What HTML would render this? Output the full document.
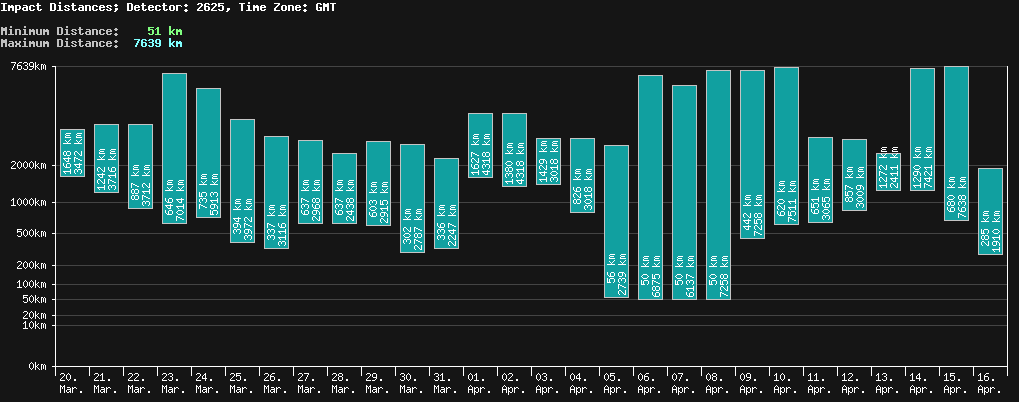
<!DOCTYPE html>
<html><head><meta charset="utf-8"><title>Impact Distances</title>
<style>
html,body{margin:0;padding:0;background:#151515;}
body{width:1019px;height:402px;overflow:hidden;position:relative;font-family:"Liberation Mono",monospace;}
svg{position:absolute;left:0;top:0;}
svg text{font-family:"Liberation Mono",monospace;font-size:10px;fill-opacity:0;stroke:none;}
svg text.t{font-size:11.667px;font-weight:bold;}
</style></head><body>
<svg width="1019" height="402" viewBox="0 0 1019 402">
<defs>
<path id="g0" d="M2 0h1v1h-1zM1 1h1v1h-1zM3 1h1v1h-1zM0 2h1v1h-1zM4 2h1v1h-1zM0 3h1v1h-1zM4 3h1v1h-1zM0 4h1v1h-1zM4 4h1v1h-1zM0 5h1v1h-1zM4 5h1v1h-1zM1 6h1v1h-1zM3 6h1v1h-1zM2 7h1v1h-1z"/>
<path id="g1" d="M2 0h1v1h-1zM1 1h2v1h-2zM0 2h1v1h-1zM2 2h1v1h-1zM2 3h1v1h-1zM2 4h1v1h-1zM2 5h1v1h-1zM2 6h1v1h-1zM0 7h5v1h-5z"/>
<path id="g2" d="M1 0h3v1h-3zM0 1h1v1h-1zM4 1h1v1h-1zM4 2h1v1h-1zM3 3h1v1h-1zM2 4h1v1h-1zM1 5h1v1h-1zM0 6h1v1h-1zM0 7h5v1h-5z"/>
<path id="g3" d="M1 0h3v1h-3zM0 1h1v1h-1zM4 1h1v1h-1zM4 2h1v1h-1zM2 3h2v1h-2zM4 4h1v1h-1zM4 5h1v1h-1zM0 6h1v1h-1zM4 6h1v1h-1zM1 7h3v1h-3z"/>
<path id="g4" d="M3 0h1v1h-1zM2 1h2v1h-2zM1 2h1v1h-1zM3 2h1v1h-1zM0 3h1v1h-1zM3 3h1v1h-1zM0 4h1v1h-1zM3 4h1v1h-1zM0 5h5v1h-5zM3 6h1v1h-1zM3 7h1v1h-1z"/>
<path id="g5" d="M0 0h5v1h-5zM0 1h1v1h-1zM0 2h4v1h-4zM0 3h1v1h-1zM4 3h1v1h-1zM4 4h1v1h-1zM4 5h1v1h-1zM0 6h1v1h-1zM4 6h1v1h-1zM1 7h3v1h-3z"/>
<path id="g6" d="M2 0h3v1h-3zM1 1h1v1h-1zM0 2h1v1h-1zM0 3h4v1h-4zM0 4h1v1h-1zM4 4h1v1h-1zM0 5h1v1h-1zM4 5h1v1h-1zM0 6h1v1h-1zM4 6h1v1h-1zM1 7h3v1h-3z"/>
<path id="g7" d="M0 0h5v1h-5zM4 1h1v1h-1zM3 2h1v1h-1zM3 3h1v1h-1zM2 4h1v1h-1zM2 5h1v1h-1zM1 6h1v1h-1zM1 7h1v1h-1z"/>
<path id="g8" d="M1 0h3v1h-3zM0 1h1v1h-1zM4 1h1v1h-1zM0 2h1v1h-1zM4 2h1v1h-1zM1 3h3v1h-3zM0 4h1v1h-1zM4 4h1v1h-1zM0 5h1v1h-1zM4 5h1v1h-1zM0 6h1v1h-1zM4 6h1v1h-1zM1 7h3v1h-3z"/>
<path id="g9" d="M1 0h3v1h-3zM0 1h1v1h-1zM4 1h1v1h-1zM0 2h1v1h-1zM4 2h1v1h-1zM0 3h1v1h-1zM4 3h1v1h-1zM1 4h4v1h-4zM4 5h1v1h-1zM3 6h1v1h-1zM0 7h3v1h-3z"/>
<path id="gk" d="M0 0h1v1h-1zM0 1h1v1h-1zM0 2h1v1h-1zM3 2h1v1h-1zM0 3h1v1h-1zM2 3h1v1h-1zM0 4h2v1h-2zM0 5h1v1h-1zM2 5h1v1h-1zM0 6h1v1h-1zM3 6h1v1h-1zM0 7h1v1h-1zM4 7h1v1h-1z"/>
<path id="gm" d="M0 2h2v1h-2zM3 2h1v1h-1zM0 3h1v1h-1zM2 3h1v1h-1zM4 3h1v1h-1zM0 4h1v1h-1zM2 4h1v1h-1zM4 4h1v1h-1zM0 5h1v1h-1zM2 5h1v1h-1zM4 5h1v1h-1zM0 6h1v1h-1zM2 6h1v1h-1zM4 6h1v1h-1zM0 7h1v1h-1zM4 7h1v1h-1z"/>
<path id="gM" d="M0 0h1v1h-1zM4 0h1v1h-1zM0 1h2v1h-2zM3 1h2v1h-2zM0 2h1v1h-1zM2 2h1v1h-1zM4 2h1v1h-1zM0 3h1v1h-1zM2 3h1v1h-1zM4 3h1v1h-1zM0 4h1v1h-1zM4 4h1v1h-1zM0 5h1v1h-1zM4 5h1v1h-1zM0 6h1v1h-1zM4 6h1v1h-1zM0 7h1v1h-1zM4 7h1v1h-1z"/>
<path id="ga" d="M1 2h3v1h-3zM4 3h1v1h-1zM1 4h4v1h-4zM0 5h1v1h-1zM4 5h1v1h-1zM0 6h1v1h-1zM3 6h2v1h-2zM1 7h2v1h-2zM4 7h1v1h-1z"/>
<path id="gr" d="M0 2h1v1h-1zM2 2h2v1h-2zM0 3h2v1h-2zM4 3h1v1h-1zM0 4h1v1h-1zM0 5h1v1h-1zM0 6h1v1h-1zM0 7h1v1h-1z"/>
<path id="gA" d="M2 0h1v1h-1zM1 1h1v1h-1zM3 1h1v1h-1zM0 2h1v1h-1zM4 2h1v1h-1zM0 3h1v1h-1zM4 3h1v1h-1zM0 4h5v1h-5zM0 5h1v1h-1zM4 5h1v1h-1zM0 6h1v1h-1zM4 6h1v1h-1zM0 7h1v1h-1zM4 7h1v1h-1z"/>
<path id="gp" d="M0 2h1v1h-1zM2 2h2v1h-2zM0 3h2v1h-2zM4 3h1v1h-1zM0 4h1v1h-1zM4 4h1v1h-1zM0 5h1v1h-1zM4 5h1v1h-1zM0 6h2v1h-2zM4 6h1v1h-1zM0 7h1v1h-1zM2 7h2v1h-2zM0 8h1v1h-1zM0 9h1v1h-1z"/>
<path id="gdot" d="M2 6h2v1h-2zM2 7h2v1h-2z"/>
<path id="b73" d="M0 1h6v1h-6zM2 2h2v1h-2zM2 3h2v1h-2zM2 4h2v1h-2zM2 5h2v1h-2zM2 6h2v1h-2zM2 7h2v1h-2zM0 8h6v1h-6z"/>
<path id="b109" d="M0 3h2v1h-2zM3 3h2v1h-2zM0 4h6v1h-6zM0 5h6v1h-6zM0 6h2v1h-2zM4 6h2v1h-2zM0 7h2v1h-2zM4 7h2v1h-2zM0 8h2v1h-2zM4 8h2v1h-2z"/>
<path id="b112" d="M0 3h5v1h-5zM0 4h2v1h-2zM4 4h2v1h-2zM0 5h2v1h-2zM4 5h2v1h-2zM0 6h2v1h-2zM4 6h2v1h-2zM0 7h5v1h-5zM0 8h2v1h-2zM0 9h2v1h-2zM0 10h2v1h-2z"/>
<path id="b97" d="M1 3h4v1h-4zM4 4h2v1h-2zM1 5h5v1h-5zM0 6h2v1h-2zM4 6h2v1h-2zM0 7h2v1h-2zM4 7h2v1h-2zM1 8h5v1h-5z"/>
<path id="b99" d="M1 3h4v1h-4zM0 4h2v1h-2zM4 4h2v1h-2zM0 5h2v1h-2zM0 6h2v1h-2zM0 7h2v1h-2zM4 7h2v1h-2zM1 8h4v1h-4z"/>
<path id="b116" d="M1 1h2v1h-2zM1 2h2v1h-2zM0 3h5v1h-5zM1 4h2v1h-2zM1 5h2v1h-2zM1 6h2v1h-2zM1 7h2v1h-2zM4 7h2v1h-2zM2 8h3v1h-3z"/>
<path id="b68" d="M0 1h5v1h-5zM0 2h2v1h-2zM4 2h2v1h-2zM0 3h2v1h-2zM4 3h2v1h-2zM0 4h2v1h-2zM4 4h2v1h-2zM0 5h2v1h-2zM4 5h2v1h-2zM0 6h2v1h-2zM4 6h2v1h-2zM0 7h2v1h-2zM4 7h2v1h-2zM0 8h5v1h-5z"/>
<path id="b105" d="M2 0h2v1h-2zM2 1h2v1h-2zM1 3h3v1h-3zM2 4h2v1h-2zM2 5h2v1h-2zM2 6h2v1h-2zM2 7h2v1h-2zM0 8h6v1h-6z"/>
<path id="b115" d="M1 3h4v1h-4zM0 4h2v1h-2zM4 4h2v1h-2zM1 5h2v1h-2zM3 6h2v1h-2zM0 7h2v1h-2zM4 7h2v1h-2zM1 8h4v1h-4z"/>
<path id="b110" d="M0 3h5v1h-5zM0 4h2v1h-2zM4 4h2v1h-2zM0 5h2v1h-2zM4 5h2v1h-2zM0 6h2v1h-2zM4 6h2v1h-2zM0 7h2v1h-2zM4 7h2v1h-2zM0 8h2v1h-2zM4 8h2v1h-2z"/>
<path id="b101" d="M1 3h4v1h-4zM0 4h2v1h-2zM4 4h2v1h-2zM0 5h6v1h-6zM0 6h2v1h-2zM0 7h2v1h-2zM4 7h2v1h-2zM1 8h4v1h-4z"/>
<path id="b59" d="M2 2h2v1h-2zM1 3h4v1h-4zM2 4h2v1h-2zM2 6h3v1h-3zM2 7h3v1h-3zM2 8h2v1h-2zM1 9h2v1h-2z"/>
<path id="b111" d="M1 3h4v1h-4zM0 4h2v1h-2zM4 4h2v1h-2zM0 5h2v1h-2zM4 5h2v1h-2zM0 6h2v1h-2zM4 6h2v1h-2zM0 7h2v1h-2zM4 7h2v1h-2zM1 8h4v1h-4z"/>
<path id="b114" d="M0 3h5v1h-5zM0 4h2v1h-2zM5 4h1v1h-1zM0 5h2v1h-2zM0 6h2v1h-2zM0 7h2v1h-2zM0 8h2v1h-2z"/>
<path id="b58" d="M2 2h2v1h-2zM1 3h4v1h-4zM2 4h2v1h-2zM2 7h2v1h-2zM1 8h4v1h-4zM2 9h2v1h-2z"/>
<path id="b44" d="M2 6h3v1h-3zM2 7h3v1h-3zM2 8h2v1h-2zM1 9h2v1h-2z"/>
<path id="b84" d="M0 1h6v1h-6zM2 2h2v1h-2zM2 3h2v1h-2zM2 4h2v1h-2zM2 5h2v1h-2zM2 6h2v1h-2zM2 7h2v1h-2zM2 8h2v1h-2z"/>
<path id="b90" d="M0 1h6v1h-6zM4 2h2v1h-2zM3 3h2v1h-2zM2 4h2v1h-2zM1 5h2v1h-2zM0 6h2v1h-2zM0 7h2v1h-2zM0 8h6v1h-6z"/>
<path id="b71" d="M1 1h4v1h-4zM0 2h2v1h-2zM4 2h2v1h-2zM0 3h2v1h-2zM0 4h2v1h-2zM0 5h2v1h-2zM3 5h3v1h-3zM0 6h2v1h-2zM4 6h2v1h-2zM0 7h2v1h-2zM4 7h2v1h-2zM1 8h5v1h-5z"/>
<path id="b77" d="M0 1h2v1h-2zM4 1h2v1h-2zM0 2h6v1h-6zM0 3h6v1h-6zM0 4h6v1h-6zM0 5h2v1h-2zM4 5h2v1h-2zM0 6h2v1h-2zM4 6h2v1h-2zM0 7h2v1h-2zM4 7h2v1h-2zM0 8h2v1h-2zM4 8h2v1h-2z"/>
<path id="b120" d="M0 3h2v1h-2zM4 3h2v1h-2zM0 4h2v1h-2zM4 4h2v1h-2zM1 5h4v1h-4zM1 6h4v1h-4zM0 7h2v1h-2zM4 7h2v1h-2zM0 8h2v1h-2zM4 8h2v1h-2z"/>
<path id="b117" d="M0 3h2v1h-2zM4 3h2v1h-2zM0 4h2v1h-2zM4 4h2v1h-2zM0 5h2v1h-2zM4 5h2v1h-2zM0 6h2v1h-2zM4 6h2v1h-2zM0 7h2v1h-2zM4 7h2v1h-2zM1 8h5v1h-5z"/>
<path id="b107" d="M0 0h2v1h-2zM0 1h2v1h-2zM0 2h2v1h-2zM0 3h2v1h-2zM4 3h2v1h-2zM0 4h2v1h-2zM3 4h2v1h-2zM0 5h4v1h-4zM0 6h4v1h-4zM0 7h2v1h-2zM3 7h2v1h-2zM0 8h2v1h-2zM4 8h2v1h-2z"/>
<path id="b50" d="M1 1h4v1h-4zM0 2h2v1h-2zM4 2h2v1h-2zM4 3h2v1h-2zM3 4h2v1h-2zM2 5h2v1h-2zM1 6h2v1h-2zM0 7h2v1h-2zM0 8h6v1h-6z"/>
<path id="b54" d="M1 1h4v1h-4zM0 2h2v1h-2zM4 2h2v1h-2zM0 3h2v1h-2zM0 4h5v1h-5zM0 5h2v1h-2zM4 5h2v1h-2zM0 6h2v1h-2zM4 6h2v1h-2zM0 7h2v1h-2zM4 7h2v1h-2zM1 8h4v1h-4z"/>
<path id="b53" d="M0 1h6v1h-6zM0 2h2v1h-2zM0 3h5v1h-5zM0 4h2v1h-2zM4 4h2v1h-2zM4 5h2v1h-2zM4 6h2v1h-2zM0 7h2v1h-2zM4 7h2v1h-2zM1 8h4v1h-4z"/>
<path id="b49" d="M2 1h2v1h-2zM1 2h3v1h-3zM0 3h1v1h-1zM2 3h2v1h-2zM2 4h2v1h-2zM2 5h2v1h-2zM2 6h2v1h-2zM2 7h2v1h-2zM0 8h6v1h-6z"/>
<path id="b55" d="M0 1h6v1h-6zM4 2h2v1h-2zM3 3h2v1h-2zM3 4h2v1h-2zM2 5h2v1h-2zM2 6h2v1h-2zM1 7h2v1h-2zM1 8h2v1h-2z"/>
<path id="b51" d="M1 1h4v1h-4zM0 2h2v1h-2zM4 2h2v1h-2zM4 3h2v1h-2zM1 4h4v1h-4zM4 5h2v1h-2zM4 6h2v1h-2zM0 7h2v1h-2zM4 7h2v1h-2zM1 8h4v1h-4z"/>
<path id="b57" d="M1 1h4v1h-4zM0 2h2v1h-2zM4 2h2v1h-2zM0 3h2v1h-2zM4 3h2v1h-2zM0 4h2v1h-2zM4 4h2v1h-2zM1 5h5v1h-5zM4 6h2v1h-2zM0 7h2v1h-2zM4 7h2v1h-2zM1 8h4v1h-4z"/>
</defs>
<g shape-rendering="crispEdges">
<g transform="translate(1,2)" fill="#fff" aria-label="Impact Distances; Detector: 2625, Time Zone: GMT"><use href="#b73" x="0"/><use href="#b109" x="7"/><use href="#b112" x="14"/><use href="#b97" x="21"/><use href="#b99" x="28"/><use href="#b116" x="35"/><use href="#b68" x="49"/><use href="#b105" x="56"/><use href="#b115" x="63"/><use href="#b116" x="70"/><use href="#b97" x="77"/><use href="#b110" x="84"/><use href="#b99" x="91"/><use href="#b101" x="98"/><use href="#b115" x="105"/><use href="#b59" x="112"/><use href="#b68" x="126"/><use href="#b101" x="133"/><use href="#b116" x="140"/><use href="#b101" x="147"/><use href="#b99" x="154"/><use href="#b116" x="161"/><use href="#b111" x="168"/><use href="#b114" x="175"/><use href="#b58" x="182"/><use href="#b50" x="196"/><use href="#b54" x="203"/><use href="#b50" x="210"/><use href="#b53" x="217"/><use href="#b44" x="224"/><use href="#b84" x="238"/><use href="#b105" x="245"/><use href="#b109" x="252"/><use href="#b101" x="259"/><use href="#b90" x="273"/><use href="#b111" x="280"/><use href="#b110" x="287"/><use href="#b101" x="294"/><use href="#b58" x="301"/><use href="#b71" x="315"/><use href="#b77" x="322"/><use href="#b84" x="329"/></g>
<g transform="translate(1,26)" fill="#c0c0c0" aria-label="Minimum Distance:"><use href="#b77" x="0"/><use href="#b105" x="7"/><use href="#b110" x="14"/><use href="#b105" x="21"/><use href="#b109" x="28"/><use href="#b117" x="35"/><use href="#b109" x="42"/><use href="#b68" x="56"/><use href="#b105" x="63"/><use href="#b115" x="70"/><use href="#b116" x="77"/><use href="#b97" x="84"/><use href="#b110" x="91"/><use href="#b99" x="98"/><use href="#b101" x="105"/><use href="#b58" x="112"/></g>
<g transform="translate(1,38)" fill="#c0c0c0" aria-label="Maximum Distance:"><use href="#b77" x="0"/><use href="#b97" x="7"/><use href="#b120" x="14"/><use href="#b105" x="21"/><use href="#b109" x="28"/><use href="#b117" x="35"/><use href="#b109" x="42"/><use href="#b68" x="56"/><use href="#b105" x="63"/><use href="#b115" x="70"/><use href="#b116" x="77"/><use href="#b97" x="84"/><use href="#b110" x="91"/><use href="#b99" x="98"/><use href="#b101" x="105"/><use href="#b58" x="112"/></g>
<g transform="translate(134,26)" fill="#80ff80" aria-label="51 km"><use href="#b53" x="14"/><use href="#b49" x="21"/><use href="#b107" x="35"/><use href="#b109" x="42"/></g>
<g transform="translate(134,38)" fill="#80ffff" aria-label="7639 km"><use href="#b55" x="0"/><use href="#b54" x="7"/><use href="#b51" x="14"/><use href="#b57" x="21"/><use href="#b107" x="35"/><use href="#b109" x="42"/></g>
</g>
<g shape-rendering="crispEdges">
<rect x="56" y="66" width="952" height="1" fill="#444"/>
<rect x="56" y="165" width="952" height="1" fill="#444"/>
<rect x="56" y="202" width="952" height="1" fill="#444"/>
<rect x="56" y="233" width="952" height="1" fill="#444"/>
<rect x="56" y="265" width="952" height="1" fill="#444"/>
<rect x="56" y="284" width="952" height="1" fill="#444"/>
<rect x="56" y="299" width="952" height="1" fill="#444"/>
<rect x="56" y="315" width="952" height="1" fill="#444"/>
<rect x="56" y="325" width="952" height="1" fill="#444"/>
<rect x="60" y="129" width="25" height="48" fill="#c4c4c4"/>
<rect x="61" y="130" width="23" height="46" fill="#11a0a0"/>
<rect x="94" y="124" width="25" height="69" fill="#c4c4c4"/>
<rect x="95" y="125" width="23" height="67" fill="#11a0a0"/>
<rect x="128" y="124" width="25" height="85" fill="#c4c4c4"/>
<rect x="129" y="125" width="23" height="83" fill="#11a0a0"/>
<rect x="162" y="73" width="25" height="151" fill="#c4c4c4"/>
<rect x="163" y="74" width="23" height="149" fill="#11a0a0"/>
<rect x="196" y="88" width="25" height="130" fill="#c4c4c4"/>
<rect x="197" y="89" width="23" height="128" fill="#11a0a0"/>
<rect x="230" y="119" width="25" height="124" fill="#c4c4c4"/>
<rect x="231" y="120" width="23" height="122" fill="#11a0a0"/>
<rect x="264" y="136" width="25" height="113" fill="#c4c4c4"/>
<rect x="265" y="137" width="23" height="111" fill="#11a0a0"/>
<rect x="298" y="140" width="25" height="84" fill="#c4c4c4"/>
<rect x="299" y="141" width="23" height="82" fill="#11a0a0"/>
<rect x="332" y="153" width="25" height="71" fill="#c4c4c4"/>
<rect x="333" y="154" width="23" height="69" fill="#11a0a0"/>
<rect x="366" y="141" width="25" height="85" fill="#c4c4c4"/>
<rect x="367" y="142" width="23" height="83" fill="#11a0a0"/>
<rect x="400" y="144" width="25" height="109" fill="#c4c4c4"/>
<rect x="401" y="145" width="23" height="107" fill="#11a0a0"/>
<rect x="434" y="158" width="25" height="91" fill="#c4c4c4"/>
<rect x="435" y="159" width="23" height="89" fill="#11a0a0"/>
<rect x="468" y="113" width="25" height="65" fill="#c4c4c4"/>
<rect x="469" y="114" width="23" height="63" fill="#11a0a0"/>
<rect x="502" y="113" width="25" height="74" fill="#c4c4c4"/>
<rect x="503" y="114" width="23" height="72" fill="#11a0a0"/>
<rect x="536" y="138" width="25" height="47" fill="#c4c4c4"/>
<rect x="537" y="139" width="23" height="45" fill="#11a0a0"/>
<rect x="570" y="138" width="25" height="75" fill="#c4c4c4"/>
<rect x="571" y="139" width="23" height="73" fill="#11a0a0"/>
<rect x="604" y="145" width="25" height="153" fill="#c4c4c4"/>
<rect x="605" y="146" width="23" height="151" fill="#11a0a0"/>
<rect x="638" y="75" width="25" height="225" fill="#c4c4c4"/>
<rect x="639" y="76" width="23" height="223" fill="#11a0a0"/>
<rect x="672" y="85" width="25" height="215" fill="#c4c4c4"/>
<rect x="673" y="86" width="23" height="213" fill="#11a0a0"/>
<rect x="706" y="70" width="25" height="230" fill="#c4c4c4"/>
<rect x="707" y="71" width="23" height="228" fill="#11a0a0"/>
<rect x="740" y="70" width="25" height="169" fill="#c4c4c4"/>
<rect x="741" y="71" width="23" height="167" fill="#11a0a0"/>
<rect x="774" y="67" width="25" height="158" fill="#c4c4c4"/>
<rect x="775" y="68" width="23" height="156" fill="#11a0a0"/>
<rect x="808" y="137" width="25" height="86" fill="#c4c4c4"/>
<rect x="809" y="138" width="23" height="84" fill="#11a0a0"/>
<rect x="842" y="139" width="25" height="72" fill="#c4c4c4"/>
<rect x="843" y="140" width="23" height="70" fill="#11a0a0"/>
<rect x="876" y="153" width="25" height="38" fill="#c4c4c4"/>
<rect x="877" y="154" width="23" height="36" fill="#11a0a0"/>
<rect x="910" y="68" width="25" height="123" fill="#c4c4c4"/>
<rect x="911" y="69" width="23" height="121" fill="#11a0a0"/>
<rect x="944" y="66" width="25" height="155" fill="#c4c4c4"/>
<rect x="945" y="67" width="23" height="153" fill="#11a0a0"/>
<rect x="978" y="168" width="25" height="87" fill="#c4c4c4"/>
<rect x="979" y="169" width="23" height="85" fill="#11a0a0"/>
<rect x="55" y="66" width="1" height="310" fill="#fff"/>
<rect x="52" y="366" width="956" height="1" fill="#fff"/>
<rect x="1007" y="66" width="1" height="310" fill="#fff"/>
<rect x="89" y="366" width="1" height="10" fill="#fff"/>
<rect x="123" y="366" width="1" height="10" fill="#fff"/>
<rect x="157" y="366" width="1" height="10" fill="#fff"/>
<rect x="191" y="366" width="1" height="10" fill="#fff"/>
<rect x="225" y="366" width="1" height="10" fill="#fff"/>
<rect x="259" y="366" width="1" height="10" fill="#fff"/>
<rect x="293" y="366" width="1" height="10" fill="#fff"/>
<rect x="327" y="366" width="1" height="10" fill="#fff"/>
<rect x="361" y="366" width="1" height="10" fill="#fff"/>
<rect x="395" y="366" width="1" height="10" fill="#fff"/>
<rect x="429" y="366" width="1" height="10" fill="#fff"/>
<rect x="463" y="366" width="1" height="10" fill="#fff"/>
<rect x="497" y="366" width="1" height="10" fill="#fff"/>
<rect x="531" y="366" width="1" height="10" fill="#fff"/>
<rect x="565" y="366" width="1" height="10" fill="#fff"/>
<rect x="599" y="366" width="1" height="10" fill="#fff"/>
<rect x="633" y="366" width="1" height="10" fill="#fff"/>
<rect x="667" y="366" width="1" height="10" fill="#fff"/>
<rect x="701" y="366" width="1" height="10" fill="#fff"/>
<rect x="735" y="366" width="1" height="10" fill="#fff"/>
<rect x="769" y="366" width="1" height="10" fill="#fff"/>
<rect x="803" y="366" width="1" height="10" fill="#fff"/>
<rect x="837" y="366" width="1" height="10" fill="#fff"/>
<rect x="871" y="366" width="1" height="10" fill="#fff"/>
<rect x="905" y="366" width="1" height="10" fill="#fff"/>
<rect x="939" y="366" width="1" height="10" fill="#fff"/>
<rect x="973" y="366" width="1" height="10" fill="#fff"/>
<rect x="52" y="66" width="3" height="1" fill="#fff"/>
<rect x="52" y="165" width="3" height="1" fill="#fff"/>
<rect x="52" y="202" width="3" height="1" fill="#fff"/>
<rect x="52" y="233" width="3" height="1" fill="#fff"/>
<rect x="52" y="265" width="3" height="1" fill="#fff"/>
<rect x="52" y="284" width="3" height="1" fill="#fff"/>
<rect x="52" y="299" width="3" height="1" fill="#fff"/>
<rect x="52" y="315" width="3" height="1" fill="#fff"/>
<rect x="52" y="325" width="3" height="1" fill="#fff"/>
<rect x="52" y="366" width="3" height="1" fill="#fff"/>
<g fill="#fff">
<g transform="translate(11,62)" aria-label="7639km"><use href="#g7" x="0"/><use href="#g6" x="6"/><use href="#g3" x="12"/><use href="#g9" x="18"/><use href="#gk" x="24"/><use href="#gm" x="30"/></g>
<g transform="translate(11,161)" aria-label="2000km"><use href="#g2" x="0"/><use href="#g0" x="6"/><use href="#g0" x="12"/><use href="#g0" x="18"/><use href="#gk" x="24"/><use href="#gm" x="30"/></g>
<g transform="translate(11,198)" aria-label="1000km"><use href="#g1" x="0"/><use href="#g0" x="6"/><use href="#g0" x="12"/><use href="#g0" x="18"/><use href="#gk" x="24"/><use href="#gm" x="30"/></g>
<g transform="translate(17,229)" aria-label="500km"><use href="#g5" x="0"/><use href="#g0" x="6"/><use href="#g0" x="12"/><use href="#gk" x="18"/><use href="#gm" x="24"/></g>
<g transform="translate(17,261)" aria-label="200km"><use href="#g2" x="0"/><use href="#g0" x="6"/><use href="#g0" x="12"/><use href="#gk" x="18"/><use href="#gm" x="24"/></g>
<g transform="translate(17,280)" aria-label="100km"><use href="#g1" x="0"/><use href="#g0" x="6"/><use href="#g0" x="12"/><use href="#gk" x="18"/><use href="#gm" x="24"/></g>
<g transform="translate(23,295)" aria-label="50km"><use href="#g5" x="0"/><use href="#g0" x="6"/><use href="#gk" x="12"/><use href="#gm" x="18"/></g>
<g transform="translate(23,311)" aria-label="20km"><use href="#g2" x="0"/><use href="#g0" x="6"/><use href="#gk" x="12"/><use href="#gm" x="18"/></g>
<g transform="translate(23,321)" aria-label="10km"><use href="#g1" x="0"/><use href="#g0" x="6"/><use href="#gk" x="12"/><use href="#gm" x="18"/></g>
<g transform="translate(29,362)" aria-label="0km"><use href="#g0" x="0"/><use href="#gk" x="6"/><use href="#gm" x="12"/></g>
<g transform="translate(60,373)" aria-label="20."><use href="#g2" x="0"/><use href="#g0" x="6"/><use href="#gdot" x="12"/></g>
<g transform="translate(60,385)" aria-label="Mar."><use href="#gM" x="0"/><use href="#ga" x="6"/><use href="#gr" x="12"/><use href="#gdot" x="18"/></g>
<g transform="translate(94,373)" aria-label="21."><use href="#g2" x="0"/><use href="#g1" x="6"/><use href="#gdot" x="12"/></g>
<g transform="translate(94,385)" aria-label="Mar."><use href="#gM" x="0"/><use href="#ga" x="6"/><use href="#gr" x="12"/><use href="#gdot" x="18"/></g>
<g transform="translate(128,373)" aria-label="22."><use href="#g2" x="0"/><use href="#g2" x="6"/><use href="#gdot" x="12"/></g>
<g transform="translate(128,385)" aria-label="Mar."><use href="#gM" x="0"/><use href="#ga" x="6"/><use href="#gr" x="12"/><use href="#gdot" x="18"/></g>
<g transform="translate(162,373)" aria-label="23."><use href="#g2" x="0"/><use href="#g3" x="6"/><use href="#gdot" x="12"/></g>
<g transform="translate(162,385)" aria-label="Mar."><use href="#gM" x="0"/><use href="#ga" x="6"/><use href="#gr" x="12"/><use href="#gdot" x="18"/></g>
<g transform="translate(196,373)" aria-label="24."><use href="#g2" x="0"/><use href="#g4" x="6"/><use href="#gdot" x="12"/></g>
<g transform="translate(196,385)" aria-label="Mar."><use href="#gM" x="0"/><use href="#ga" x="6"/><use href="#gr" x="12"/><use href="#gdot" x="18"/></g>
<g transform="translate(230,373)" aria-label="25."><use href="#g2" x="0"/><use href="#g5" x="6"/><use href="#gdot" x="12"/></g>
<g transform="translate(230,385)" aria-label="Mar."><use href="#gM" x="0"/><use href="#ga" x="6"/><use href="#gr" x="12"/><use href="#gdot" x="18"/></g>
<g transform="translate(264,373)" aria-label="26."><use href="#g2" x="0"/><use href="#g6" x="6"/><use href="#gdot" x="12"/></g>
<g transform="translate(264,385)" aria-label="Mar."><use href="#gM" x="0"/><use href="#ga" x="6"/><use href="#gr" x="12"/><use href="#gdot" x="18"/></g>
<g transform="translate(298,373)" aria-label="27."><use href="#g2" x="0"/><use href="#g7" x="6"/><use href="#gdot" x="12"/></g>
<g transform="translate(298,385)" aria-label="Mar."><use href="#gM" x="0"/><use href="#ga" x="6"/><use href="#gr" x="12"/><use href="#gdot" x="18"/></g>
<g transform="translate(332,373)" aria-label="28."><use href="#g2" x="0"/><use href="#g8" x="6"/><use href="#gdot" x="12"/></g>
<g transform="translate(332,385)" aria-label="Mar."><use href="#gM" x="0"/><use href="#ga" x="6"/><use href="#gr" x="12"/><use href="#gdot" x="18"/></g>
<g transform="translate(366,373)" aria-label="29."><use href="#g2" x="0"/><use href="#g9" x="6"/><use href="#gdot" x="12"/></g>
<g transform="translate(366,385)" aria-label="Mar."><use href="#gM" x="0"/><use href="#ga" x="6"/><use href="#gr" x="12"/><use href="#gdot" x="18"/></g>
<g transform="translate(400,373)" aria-label="30."><use href="#g3" x="0"/><use href="#g0" x="6"/><use href="#gdot" x="12"/></g>
<g transform="translate(400,385)" aria-label="Mar."><use href="#gM" x="0"/><use href="#ga" x="6"/><use href="#gr" x="12"/><use href="#gdot" x="18"/></g>
<g transform="translate(434,373)" aria-label="31."><use href="#g3" x="0"/><use href="#g1" x="6"/><use href="#gdot" x="12"/></g>
<g transform="translate(434,385)" aria-label="Mar."><use href="#gM" x="0"/><use href="#ga" x="6"/><use href="#gr" x="12"/><use href="#gdot" x="18"/></g>
<g transform="translate(468,373)" aria-label="01."><use href="#g0" x="0"/><use href="#g1" x="6"/><use href="#gdot" x="12"/></g>
<g transform="translate(468,385)" aria-label="Apr."><use href="#gA" x="0"/><use href="#gp" x="6"/><use href="#gr" x="12"/><use href="#gdot" x="18"/></g>
<g transform="translate(502,373)" aria-label="02."><use href="#g0" x="0"/><use href="#g2" x="6"/><use href="#gdot" x="12"/></g>
<g transform="translate(502,385)" aria-label="Apr."><use href="#gA" x="0"/><use href="#gp" x="6"/><use href="#gr" x="12"/><use href="#gdot" x="18"/></g>
<g transform="translate(536,373)" aria-label="03."><use href="#g0" x="0"/><use href="#g3" x="6"/><use href="#gdot" x="12"/></g>
<g transform="translate(536,385)" aria-label="Apr."><use href="#gA" x="0"/><use href="#gp" x="6"/><use href="#gr" x="12"/><use href="#gdot" x="18"/></g>
<g transform="translate(570,373)" aria-label="04."><use href="#g0" x="0"/><use href="#g4" x="6"/><use href="#gdot" x="12"/></g>
<g transform="translate(570,385)" aria-label="Apr."><use href="#gA" x="0"/><use href="#gp" x="6"/><use href="#gr" x="12"/><use href="#gdot" x="18"/></g>
<g transform="translate(604,373)" aria-label="05."><use href="#g0" x="0"/><use href="#g5" x="6"/><use href="#gdot" x="12"/></g>
<g transform="translate(604,385)" aria-label="Apr."><use href="#gA" x="0"/><use href="#gp" x="6"/><use href="#gr" x="12"/><use href="#gdot" x="18"/></g>
<g transform="translate(638,373)" aria-label="06."><use href="#g0" x="0"/><use href="#g6" x="6"/><use href="#gdot" x="12"/></g>
<g transform="translate(638,385)" aria-label="Apr."><use href="#gA" x="0"/><use href="#gp" x="6"/><use href="#gr" x="12"/><use href="#gdot" x="18"/></g>
<g transform="translate(672,373)" aria-label="07."><use href="#g0" x="0"/><use href="#g7" x="6"/><use href="#gdot" x="12"/></g>
<g transform="translate(672,385)" aria-label="Apr."><use href="#gA" x="0"/><use href="#gp" x="6"/><use href="#gr" x="12"/><use href="#gdot" x="18"/></g>
<g transform="translate(706,373)" aria-label="08."><use href="#g0" x="0"/><use href="#g8" x="6"/><use href="#gdot" x="12"/></g>
<g transform="translate(706,385)" aria-label="Apr."><use href="#gA" x="0"/><use href="#gp" x="6"/><use href="#gr" x="12"/><use href="#gdot" x="18"/></g>
<g transform="translate(740,373)" aria-label="09."><use href="#g0" x="0"/><use href="#g9" x="6"/><use href="#gdot" x="12"/></g>
<g transform="translate(740,385)" aria-label="Apr."><use href="#gA" x="0"/><use href="#gp" x="6"/><use href="#gr" x="12"/><use href="#gdot" x="18"/></g>
<g transform="translate(774,373)" aria-label="10."><use href="#g1" x="0"/><use href="#g0" x="6"/><use href="#gdot" x="12"/></g>
<g transform="translate(774,385)" aria-label="Apr."><use href="#gA" x="0"/><use href="#gp" x="6"/><use href="#gr" x="12"/><use href="#gdot" x="18"/></g>
<g transform="translate(808,373)" aria-label="11."><use href="#g1" x="0"/><use href="#g1" x="6"/><use href="#gdot" x="12"/></g>
<g transform="translate(808,385)" aria-label="Apr."><use href="#gA" x="0"/><use href="#gp" x="6"/><use href="#gr" x="12"/><use href="#gdot" x="18"/></g>
<g transform="translate(842,373)" aria-label="12."><use href="#g1" x="0"/><use href="#g2" x="6"/><use href="#gdot" x="12"/></g>
<g transform="translate(842,385)" aria-label="Apr."><use href="#gA" x="0"/><use href="#gp" x="6"/><use href="#gr" x="12"/><use href="#gdot" x="18"/></g>
<g transform="translate(876,373)" aria-label="13."><use href="#g1" x="0"/><use href="#g3" x="6"/><use href="#gdot" x="12"/></g>
<g transform="translate(876,385)" aria-label="Apr."><use href="#gA" x="0"/><use href="#gp" x="6"/><use href="#gr" x="12"/><use href="#gdot" x="18"/></g>
<g transform="translate(910,373)" aria-label="14."><use href="#g1" x="0"/><use href="#g4" x="6"/><use href="#gdot" x="12"/></g>
<g transform="translate(910,385)" aria-label="Apr."><use href="#gA" x="0"/><use href="#gp" x="6"/><use href="#gr" x="12"/><use href="#gdot" x="18"/></g>
<g transform="translate(944,373)" aria-label="15."><use href="#g1" x="0"/><use href="#g5" x="6"/><use href="#gdot" x="12"/></g>
<g transform="translate(944,385)" aria-label="Apr."><use href="#gA" x="0"/><use href="#gp" x="6"/><use href="#gr" x="12"/><use href="#gdot" x="18"/></g>
<g transform="translate(978,373)" aria-label="16."><use href="#g1" x="0"/><use href="#g6" x="6"/><use href="#gdot" x="12"/></g>
<g transform="translate(978,385)" aria-label="Apr."><use href="#gA" x="0"/><use href="#gp" x="6"/><use href="#gr" x="12"/><use href="#gdot" x="18"/></g>
<g transform="translate(63,174) rotate(-90)" aria-label="1648 km"><use href="#g1" x="0"/><use href="#g6" x="6"/><use href="#g4" x="12"/><use href="#g8" x="18"/><use href="#gk" x="30"/><use href="#gm" x="36"/></g>
<g transform="translate(74,174) rotate(-90)" aria-label="3472 km"><use href="#g3" x="0"/><use href="#g4" x="6"/><use href="#g7" x="12"/><use href="#g2" x="18"/><use href="#gk" x="30"/><use href="#gm" x="36"/></g>
<g transform="translate(97,190) rotate(-90)" aria-label="1242 km"><use href="#g1" x="0"/><use href="#g2" x="6"/><use href="#g4" x="12"/><use href="#g2" x="18"/><use href="#gk" x="30"/><use href="#gm" x="36"/></g>
<g transform="translate(108,190) rotate(-90)" aria-label="3716 km"><use href="#g3" x="0"/><use href="#g7" x="6"/><use href="#g1" x="12"/><use href="#g6" x="18"/><use href="#gk" x="30"/><use href="#gm" x="36"/></g>
<g transform="translate(131,206) rotate(-90)" aria-label="887 km"><use href="#g8" x="6"/><use href="#g8" x="12"/><use href="#g7" x="18"/><use href="#gk" x="30"/><use href="#gm" x="36"/></g>
<g transform="translate(142,206) rotate(-90)" aria-label="3712 km"><use href="#g3" x="0"/><use href="#g7" x="6"/><use href="#g1" x="12"/><use href="#g2" x="18"/><use href="#gk" x="30"/><use href="#gm" x="36"/></g>
<g transform="translate(165,221) rotate(-90)" aria-label="646 km"><use href="#g6" x="6"/><use href="#g4" x="12"/><use href="#g6" x="18"/><use href="#gk" x="30"/><use href="#gm" x="36"/></g>
<g transform="translate(176,221) rotate(-90)" aria-label="7014 km"><use href="#g7" x="0"/><use href="#g0" x="6"/><use href="#g1" x="12"/><use href="#g4" x="18"/><use href="#gk" x="30"/><use href="#gm" x="36"/></g>
<g transform="translate(199,215) rotate(-90)" aria-label="735 km"><use href="#g7" x="6"/><use href="#g3" x="12"/><use href="#g5" x="18"/><use href="#gk" x="30"/><use href="#gm" x="36"/></g>
<g transform="translate(210,215) rotate(-90)" aria-label="5913 km"><use href="#g5" x="0"/><use href="#g9" x="6"/><use href="#g1" x="12"/><use href="#g3" x="18"/><use href="#gk" x="30"/><use href="#gm" x="36"/></g>
<g transform="translate(233,240) rotate(-90)" aria-label="394 km"><use href="#g3" x="6"/><use href="#g9" x="12"/><use href="#g4" x="18"/><use href="#gk" x="30"/><use href="#gm" x="36"/></g>
<g transform="translate(244,240) rotate(-90)" aria-label="3972 km"><use href="#g3" x="0"/><use href="#g9" x="6"/><use href="#g7" x="12"/><use href="#g2" x="18"/><use href="#gk" x="30"/><use href="#gm" x="36"/></g>
<g transform="translate(267,246) rotate(-90)" aria-label="337 km"><use href="#g3" x="6"/><use href="#g3" x="12"/><use href="#g7" x="18"/><use href="#gk" x="30"/><use href="#gm" x="36"/></g>
<g transform="translate(278,246) rotate(-90)" aria-label="3116 km"><use href="#g3" x="0"/><use href="#g1" x="6"/><use href="#g1" x="12"/><use href="#g6" x="18"/><use href="#gk" x="30"/><use href="#gm" x="36"/></g>
<g transform="translate(301,221) rotate(-90)" aria-label="637 km"><use href="#g6" x="6"/><use href="#g3" x="12"/><use href="#g7" x="18"/><use href="#gk" x="30"/><use href="#gm" x="36"/></g>
<g transform="translate(312,221) rotate(-90)" aria-label="2968 km"><use href="#g2" x="0"/><use href="#g9" x="6"/><use href="#g6" x="12"/><use href="#g8" x="18"/><use href="#gk" x="30"/><use href="#gm" x="36"/></g>
<g transform="translate(335,221) rotate(-90)" aria-label="637 km"><use href="#g6" x="6"/><use href="#g3" x="12"/><use href="#g7" x="18"/><use href="#gk" x="30"/><use href="#gm" x="36"/></g>
<g transform="translate(346,221) rotate(-90)" aria-label="2438 km"><use href="#g2" x="0"/><use href="#g4" x="6"/><use href="#g3" x="12"/><use href="#g8" x="18"/><use href="#gk" x="30"/><use href="#gm" x="36"/></g>
<g transform="translate(369,223) rotate(-90)" aria-label="603 km"><use href="#g6" x="6"/><use href="#g0" x="12"/><use href="#g3" x="18"/><use href="#gk" x="30"/><use href="#gm" x="36"/></g>
<g transform="translate(380,223) rotate(-90)" aria-label="2915 km"><use href="#g2" x="0"/><use href="#g9" x="6"/><use href="#g1" x="12"/><use href="#g5" x="18"/><use href="#gk" x="30"/><use href="#gm" x="36"/></g>
<g transform="translate(403,250) rotate(-90)" aria-label="302 km"><use href="#g3" x="6"/><use href="#g0" x="12"/><use href="#g2" x="18"/><use href="#gk" x="30"/><use href="#gm" x="36"/></g>
<g transform="translate(414,250) rotate(-90)" aria-label="2787 km"><use href="#g2" x="0"/><use href="#g7" x="6"/><use href="#g8" x="12"/><use href="#g7" x="18"/><use href="#gk" x="30"/><use href="#gm" x="36"/></g>
<g transform="translate(437,246) rotate(-90)" aria-label="336 km"><use href="#g3" x="6"/><use href="#g3" x="12"/><use href="#g6" x="18"/><use href="#gk" x="30"/><use href="#gm" x="36"/></g>
<g transform="translate(448,246) rotate(-90)" aria-label="2247 km"><use href="#g2" x="0"/><use href="#g2" x="6"/><use href="#g4" x="12"/><use href="#g7" x="18"/><use href="#gk" x="30"/><use href="#gm" x="36"/></g>
<g transform="translate(471,175) rotate(-90)" aria-label="1627 km"><use href="#g1" x="0"/><use href="#g6" x="6"/><use href="#g2" x="12"/><use href="#g7" x="18"/><use href="#gk" x="30"/><use href="#gm" x="36"/></g>
<g transform="translate(482,175) rotate(-90)" aria-label="4318 km"><use href="#g4" x="0"/><use href="#g3" x="6"/><use href="#g1" x="12"/><use href="#g8" x="18"/><use href="#gk" x="30"/><use href="#gm" x="36"/></g>
<g transform="translate(505,184) rotate(-90)" aria-label="1380 km"><use href="#g1" x="0"/><use href="#g3" x="6"/><use href="#g8" x="12"/><use href="#g0" x="18"/><use href="#gk" x="30"/><use href="#gm" x="36"/></g>
<g transform="translate(516,184) rotate(-90)" aria-label="4318 km"><use href="#g4" x="0"/><use href="#g3" x="6"/><use href="#g1" x="12"/><use href="#g8" x="18"/><use href="#gk" x="30"/><use href="#gm" x="36"/></g>
<g transform="translate(539,182) rotate(-90)" aria-label="1429 km"><use href="#g1" x="0"/><use href="#g4" x="6"/><use href="#g2" x="12"/><use href="#g9" x="18"/><use href="#gk" x="30"/><use href="#gm" x="36"/></g>
<g transform="translate(550,182) rotate(-90)" aria-label="3018 km"><use href="#g3" x="0"/><use href="#g0" x="6"/><use href="#g1" x="12"/><use href="#g8" x="18"/><use href="#gk" x="30"/><use href="#gm" x="36"/></g>
<g transform="translate(573,210) rotate(-90)" aria-label="826 km"><use href="#g8" x="6"/><use href="#g2" x="12"/><use href="#g6" x="18"/><use href="#gk" x="30"/><use href="#gm" x="36"/></g>
<g transform="translate(584,210) rotate(-90)" aria-label="3018 km"><use href="#g3" x="0"/><use href="#g0" x="6"/><use href="#g1" x="12"/><use href="#g8" x="18"/><use href="#gk" x="30"/><use href="#gm" x="36"/></g>
<g transform="translate(607,295) rotate(-90)" aria-label="56 km"><use href="#g5" x="12"/><use href="#g6" x="18"/><use href="#gk" x="30"/><use href="#gm" x="36"/></g>
<g transform="translate(618,295) rotate(-90)" aria-label="2739 km"><use href="#g2" x="0"/><use href="#g7" x="6"/><use href="#g3" x="12"/><use href="#g9" x="18"/><use href="#gk" x="30"/><use href="#gm" x="36"/></g>
<g transform="translate(641,297) rotate(-90)" aria-label="50 km"><use href="#g5" x="12"/><use href="#g0" x="18"/><use href="#gk" x="30"/><use href="#gm" x="36"/></g>
<g transform="translate(652,297) rotate(-90)" aria-label="6875 km"><use href="#g6" x="0"/><use href="#g8" x="6"/><use href="#g7" x="12"/><use href="#g5" x="18"/><use href="#gk" x="30"/><use href="#gm" x="36"/></g>
<g transform="translate(675,297) rotate(-90)" aria-label="50 km"><use href="#g5" x="12"/><use href="#g0" x="18"/><use href="#gk" x="30"/><use href="#gm" x="36"/></g>
<g transform="translate(686,297) rotate(-90)" aria-label="6137 km"><use href="#g6" x="0"/><use href="#g1" x="6"/><use href="#g3" x="12"/><use href="#g7" x="18"/><use href="#gk" x="30"/><use href="#gm" x="36"/></g>
<g transform="translate(709,297) rotate(-90)" aria-label="50 km"><use href="#g5" x="12"/><use href="#g0" x="18"/><use href="#gk" x="30"/><use href="#gm" x="36"/></g>
<g transform="translate(720,297) rotate(-90)" aria-label="7258 km"><use href="#g7" x="0"/><use href="#g2" x="6"/><use href="#g5" x="12"/><use href="#g8" x="18"/><use href="#gk" x="30"/><use href="#gm" x="36"/></g>
<g transform="translate(743,236) rotate(-90)" aria-label="442 km"><use href="#g4" x="6"/><use href="#g4" x="12"/><use href="#g2" x="18"/><use href="#gk" x="30"/><use href="#gm" x="36"/></g>
<g transform="translate(754,236) rotate(-90)" aria-label="7258 km"><use href="#g7" x="0"/><use href="#g2" x="6"/><use href="#g5" x="12"/><use href="#g8" x="18"/><use href="#gk" x="30"/><use href="#gm" x="36"/></g>
<g transform="translate(777,222) rotate(-90)" aria-label="620 km"><use href="#g6" x="6"/><use href="#g2" x="12"/><use href="#g0" x="18"/><use href="#gk" x="30"/><use href="#gm" x="36"/></g>
<g transform="translate(788,222) rotate(-90)" aria-label="7511 km"><use href="#g7" x="0"/><use href="#g5" x="6"/><use href="#g1" x="12"/><use href="#g1" x="18"/><use href="#gk" x="30"/><use href="#gm" x="36"/></g>
<g transform="translate(811,220) rotate(-90)" aria-label="651 km"><use href="#g6" x="6"/><use href="#g5" x="12"/><use href="#g1" x="18"/><use href="#gk" x="30"/><use href="#gm" x="36"/></g>
<g transform="translate(822,220) rotate(-90)" aria-label="3065 km"><use href="#g3" x="0"/><use href="#g0" x="6"/><use href="#g6" x="12"/><use href="#g5" x="18"/><use href="#gk" x="30"/><use href="#gm" x="36"/></g>
<g transform="translate(845,208) rotate(-90)" aria-label="857 km"><use href="#g8" x="6"/><use href="#g5" x="12"/><use href="#g7" x="18"/><use href="#gk" x="30"/><use href="#gm" x="36"/></g>
<g transform="translate(856,208) rotate(-90)" aria-label="3009 km"><use href="#g3" x="0"/><use href="#g0" x="6"/><use href="#g0" x="12"/><use href="#g9" x="18"/><use href="#gk" x="30"/><use href="#gm" x="36"/></g>
<g transform="translate(879,188) rotate(-90)" aria-label="1272 km"><use href="#g1" x="0"/><use href="#g2" x="6"/><use href="#g7" x="12"/><use href="#g2" x="18"/><use href="#gk" x="30"/><use href="#gm" x="36"/></g>
<g transform="translate(890,188) rotate(-90)" aria-label="2411 km"><use href="#g2" x="0"/><use href="#g4" x="6"/><use href="#g1" x="12"/><use href="#g1" x="18"/><use href="#gk" x="30"/><use href="#gm" x="36"/></g>
<g transform="translate(913,188) rotate(-90)" aria-label="1290 km"><use href="#g1" x="0"/><use href="#g2" x="6"/><use href="#g9" x="12"/><use href="#g0" x="18"/><use href="#gk" x="30"/><use href="#gm" x="36"/></g>
<g transform="translate(924,188) rotate(-90)" aria-label="7421 km"><use href="#g7" x="0"/><use href="#g4" x="6"/><use href="#g2" x="12"/><use href="#g1" x="18"/><use href="#gk" x="30"/><use href="#gm" x="36"/></g>
<g transform="translate(947,218) rotate(-90)" aria-label="680 km"><use href="#g6" x="6"/><use href="#g8" x="12"/><use href="#g0" x="18"/><use href="#gk" x="30"/><use href="#gm" x="36"/></g>
<g transform="translate(958,218) rotate(-90)" aria-label="7638 km"><use href="#g7" x="0"/><use href="#g6" x="6"/><use href="#g3" x="12"/><use href="#g8" x="18"/><use href="#gk" x="30"/><use href="#gm" x="36"/></g>
<g transform="translate(981,252) rotate(-90)" aria-label="285 km"><use href="#g2" x="6"/><use href="#g8" x="12"/><use href="#g5" x="18"/><use href="#gk" x="30"/><use href="#gm" x="36"/></g>
<g transform="translate(992,252) rotate(-90)" aria-label="1910 km"><use href="#g1" x="0"/><use href="#g9" x="6"/><use href="#g1" x="12"/><use href="#g0" x="18"/><use href="#gk" x="30"/><use href="#gm" x="36"/></g>
</g></g>
<g>
<text class="t" x="1" y="11" xml:space="preserve">Impact Distances; Detector: 2625, Time Zone: GMT</text>
<text class="t" x="1" y="35" xml:space="preserve">Minimum Distance:    51 km</text>
<text class="t" x="1" y="47" xml:space="preserve">Maximum Distance:  7639 km</text>
<text x="11" y="70" xml:space="preserve">7639km</text>
<text x="11" y="169" xml:space="preserve">2000km</text>
<text x="11" y="206" xml:space="preserve">1000km</text>
<text x="17" y="237" xml:space="preserve">500km</text>
<text x="17" y="269" xml:space="preserve">200km</text>
<text x="17" y="288" xml:space="preserve">100km</text>
<text x="23" y="303" xml:space="preserve">50km</text>
<text x="23" y="319" xml:space="preserve">20km</text>
<text x="23" y="329" xml:space="preserve">10km</text>
<text x="29" y="370" xml:space="preserve">0km</text>
<text x="60" y="381" xml:space="preserve">20.</text>
<text x="60" y="393" xml:space="preserve">Mar.</text>
<text transform="translate(71,174) rotate(-90)" xml:space="preserve">1648 km</text>
<text transform="translate(82,174) rotate(-90)" xml:space="preserve">3472 km</text>
<text x="94" y="381" xml:space="preserve">21.</text>
<text x="94" y="393" xml:space="preserve">Mar.</text>
<text transform="translate(105,190) rotate(-90)" xml:space="preserve">1242 km</text>
<text transform="translate(116,190) rotate(-90)" xml:space="preserve">3716 km</text>
<text x="128" y="381" xml:space="preserve">22.</text>
<text x="128" y="393" xml:space="preserve">Mar.</text>
<text transform="translate(139,206) rotate(-90)" xml:space="preserve"> 887 km</text>
<text transform="translate(150,206) rotate(-90)" xml:space="preserve">3712 km</text>
<text x="162" y="381" xml:space="preserve">23.</text>
<text x="162" y="393" xml:space="preserve">Mar.</text>
<text transform="translate(173,221) rotate(-90)" xml:space="preserve"> 646 km</text>
<text transform="translate(184,221) rotate(-90)" xml:space="preserve">7014 km</text>
<text x="196" y="381" xml:space="preserve">24.</text>
<text x="196" y="393" xml:space="preserve">Mar.</text>
<text transform="translate(207,215) rotate(-90)" xml:space="preserve"> 735 km</text>
<text transform="translate(218,215) rotate(-90)" xml:space="preserve">5913 km</text>
<text x="230" y="381" xml:space="preserve">25.</text>
<text x="230" y="393" xml:space="preserve">Mar.</text>
<text transform="translate(241,240) rotate(-90)" xml:space="preserve"> 394 km</text>
<text transform="translate(252,240) rotate(-90)" xml:space="preserve">3972 km</text>
<text x="264" y="381" xml:space="preserve">26.</text>
<text x="264" y="393" xml:space="preserve">Mar.</text>
<text transform="translate(275,246) rotate(-90)" xml:space="preserve"> 337 km</text>
<text transform="translate(286,246) rotate(-90)" xml:space="preserve">3116 km</text>
<text x="298" y="381" xml:space="preserve">27.</text>
<text x="298" y="393" xml:space="preserve">Mar.</text>
<text transform="translate(309,221) rotate(-90)" xml:space="preserve"> 637 km</text>
<text transform="translate(320,221) rotate(-90)" xml:space="preserve">2968 km</text>
<text x="332" y="381" xml:space="preserve">28.</text>
<text x="332" y="393" xml:space="preserve">Mar.</text>
<text transform="translate(343,221) rotate(-90)" xml:space="preserve"> 637 km</text>
<text transform="translate(354,221) rotate(-90)" xml:space="preserve">2438 km</text>
<text x="366" y="381" xml:space="preserve">29.</text>
<text x="366" y="393" xml:space="preserve">Mar.</text>
<text transform="translate(377,223) rotate(-90)" xml:space="preserve"> 603 km</text>
<text transform="translate(388,223) rotate(-90)" xml:space="preserve">2915 km</text>
<text x="400" y="381" xml:space="preserve">30.</text>
<text x="400" y="393" xml:space="preserve">Mar.</text>
<text transform="translate(411,250) rotate(-90)" xml:space="preserve"> 302 km</text>
<text transform="translate(422,250) rotate(-90)" xml:space="preserve">2787 km</text>
<text x="434" y="381" xml:space="preserve">31.</text>
<text x="434" y="393" xml:space="preserve">Mar.</text>
<text transform="translate(445,246) rotate(-90)" xml:space="preserve"> 336 km</text>
<text transform="translate(456,246) rotate(-90)" xml:space="preserve">2247 km</text>
<text x="468" y="381" xml:space="preserve">01.</text>
<text x="468" y="393" xml:space="preserve">Apr.</text>
<text transform="translate(479,175) rotate(-90)" xml:space="preserve">1627 km</text>
<text transform="translate(490,175) rotate(-90)" xml:space="preserve">4318 km</text>
<text x="502" y="381" xml:space="preserve">02.</text>
<text x="502" y="393" xml:space="preserve">Apr.</text>
<text transform="translate(513,184) rotate(-90)" xml:space="preserve">1380 km</text>
<text transform="translate(524,184) rotate(-90)" xml:space="preserve">4318 km</text>
<text x="536" y="381" xml:space="preserve">03.</text>
<text x="536" y="393" xml:space="preserve">Apr.</text>
<text transform="translate(547,182) rotate(-90)" xml:space="preserve">1429 km</text>
<text transform="translate(558,182) rotate(-90)" xml:space="preserve">3018 km</text>
<text x="570" y="381" xml:space="preserve">04.</text>
<text x="570" y="393" xml:space="preserve">Apr.</text>
<text transform="translate(581,210) rotate(-90)" xml:space="preserve"> 826 km</text>
<text transform="translate(592,210) rotate(-90)" xml:space="preserve">3018 km</text>
<text x="604" y="381" xml:space="preserve">05.</text>
<text x="604" y="393" xml:space="preserve">Apr.</text>
<text transform="translate(615,295) rotate(-90)" xml:space="preserve">  56 km</text>
<text transform="translate(626,295) rotate(-90)" xml:space="preserve">2739 km</text>
<text x="638" y="381" xml:space="preserve">06.</text>
<text x="638" y="393" xml:space="preserve">Apr.</text>
<text transform="translate(649,297) rotate(-90)" xml:space="preserve">  50 km</text>
<text transform="translate(660,297) rotate(-90)" xml:space="preserve">6875 km</text>
<text x="672" y="381" xml:space="preserve">07.</text>
<text x="672" y="393" xml:space="preserve">Apr.</text>
<text transform="translate(683,297) rotate(-90)" xml:space="preserve">  50 km</text>
<text transform="translate(694,297) rotate(-90)" xml:space="preserve">6137 km</text>
<text x="706" y="381" xml:space="preserve">08.</text>
<text x="706" y="393" xml:space="preserve">Apr.</text>
<text transform="translate(717,297) rotate(-90)" xml:space="preserve">  50 km</text>
<text transform="translate(728,297) rotate(-90)" xml:space="preserve">7258 km</text>
<text x="740" y="381" xml:space="preserve">09.</text>
<text x="740" y="393" xml:space="preserve">Apr.</text>
<text transform="translate(751,236) rotate(-90)" xml:space="preserve"> 442 km</text>
<text transform="translate(762,236) rotate(-90)" xml:space="preserve">7258 km</text>
<text x="774" y="381" xml:space="preserve">10.</text>
<text x="774" y="393" xml:space="preserve">Apr.</text>
<text transform="translate(785,222) rotate(-90)" xml:space="preserve"> 620 km</text>
<text transform="translate(796,222) rotate(-90)" xml:space="preserve">7511 km</text>
<text x="808" y="381" xml:space="preserve">11.</text>
<text x="808" y="393" xml:space="preserve">Apr.</text>
<text transform="translate(819,220) rotate(-90)" xml:space="preserve"> 651 km</text>
<text transform="translate(830,220) rotate(-90)" xml:space="preserve">3065 km</text>
<text x="842" y="381" xml:space="preserve">12.</text>
<text x="842" y="393" xml:space="preserve">Apr.</text>
<text transform="translate(853,208) rotate(-90)" xml:space="preserve"> 857 km</text>
<text transform="translate(864,208) rotate(-90)" xml:space="preserve">3009 km</text>
<text x="876" y="381" xml:space="preserve">13.</text>
<text x="876" y="393" xml:space="preserve">Apr.</text>
<text transform="translate(887,188) rotate(-90)" xml:space="preserve">1272 km</text>
<text transform="translate(898,188) rotate(-90)" xml:space="preserve">2411 km</text>
<text x="910" y="381" xml:space="preserve">14.</text>
<text x="910" y="393" xml:space="preserve">Apr.</text>
<text transform="translate(921,188) rotate(-90)" xml:space="preserve">1290 km</text>
<text transform="translate(932,188) rotate(-90)" xml:space="preserve">7421 km</text>
<text x="944" y="381" xml:space="preserve">15.</text>
<text x="944" y="393" xml:space="preserve">Apr.</text>
<text transform="translate(955,218) rotate(-90)" xml:space="preserve"> 680 km</text>
<text transform="translate(966,218) rotate(-90)" xml:space="preserve">7638 km</text>
<text x="978" y="381" xml:space="preserve">16.</text>
<text x="978" y="393" xml:space="preserve">Apr.</text>
<text transform="translate(989,252) rotate(-90)" xml:space="preserve"> 285 km</text>
<text transform="translate(1000,252) rotate(-90)" xml:space="preserve">1910 km</text>
</g>
</svg></body></html>
